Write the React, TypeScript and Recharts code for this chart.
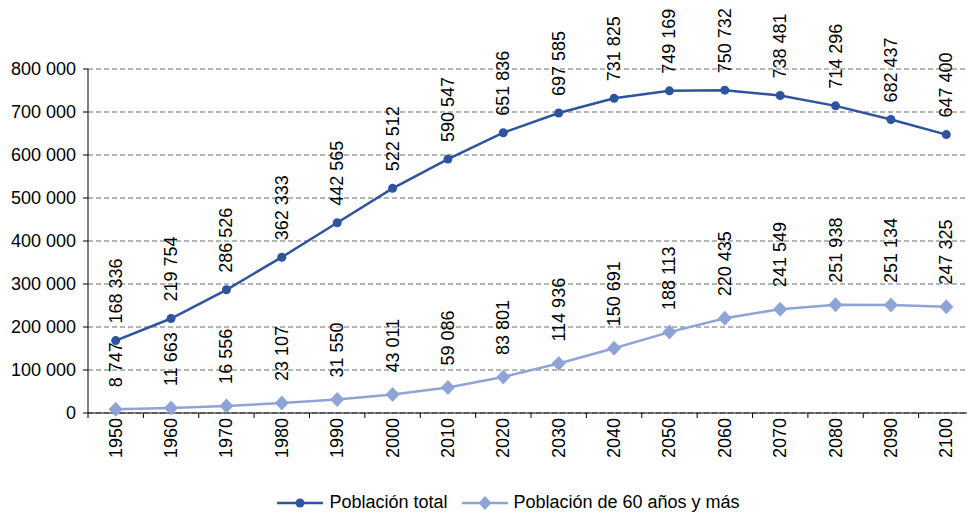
import React from 'react';
import { LineChart, Line, XAxis, YAxis, CartesianGrid, Legend, LabelList } from 'recharts';

const years = [1950, 1960, 1970, 1980, 1990, 2000, 2010, 2020, 2030, 2040, 2050, 2060, 2070, 2080, 2090, 2100];
const totalPop = [168336, 219754, 286526, 362333, 442565, 522512, 590547, 651836, 697585, 731825, 749169, 750732, 738481, 714296, 682437, 647400];
const pop60 = [8747, 11663, 16556, 23107, 31550, 43011, 59086, 83801, 114936, 150691, 188113, 220435, 241549, 251938, 251134, 247325];
const yTicks = [0, 100000, 200000, 300000, 400000, 500000, 600000, 700000, 800000];

const DARK = '#2E54A0';
const LIGHT = '#8EA4D7';
const FONT = '"Liberation Sans", Arial, sans-serif';

const data = years.map((y, i) => ({ year: y, total: totalPop[i], old: pop60[i] }));

// tick marks sit halfway between categories, labels on the categories
const xTicks = [...years.map((y) => y - 5), years[years.length - 1] + 5, ...years].sort((a, b) => a - b);

const fmt = (v: number) => String(v).replace(/\B(?=(\d{3})+(?!\d))/g, ' ');

const XTick = ({ x, y, payload }: any) => {
  if (payload.value % 10 === 5) {
    return <line x1={x} x2={x} y1={y - 5} y2={y} stroke="#000" strokeWidth={1} />;
  }
  return (
    <text x={x} y={y} transform={`rotate(-90, ${x}, ${y})`} textAnchor="end" dominantBaseline="central"
      fontSize={18} fill="#000" fontFamily={FONT}>
      {payload.value}
    </text>
  );
};

const makeLabel = (gap: number) => (props: any) => {
  const { x, y, value } = props;
  const ty = y - gap;
  return (
    <text x={x} y={ty} transform={`rotate(-90, ${x}, ${ty})`} textAnchor="start" dominantBaseline="central"
      fontSize={18} fill="#000" fontFamily={FONT}>
      {fmt(value)}
    </text>
  );
};

const Diamond = (props: any) => {
  const { cx, cy } = props;
  if (cx == null || cy == null) return null;
  return <polygon points={`${cx},${cy - 7.5} ${cx + 7},${cy} ${cx},${cy + 7.5} ${cx - 7},${cy}`} fill={LIGHT} />;
};

const LegendContent = () => (
  <div style={{ display: 'flex', justifyContent: 'center', alignItems: 'center', fontFamily: FONT, fontSize: 18, color: '#000', paddingLeft: 50 }}>
    <svg width={46} height={20} style={{ marginRight: 6 }}>
      <line x1={0} x2={46} y1={10} y2={10} stroke={DARK} strokeWidth={2.5} />
      <circle cx={23} cy={10} r={4.5} fill={DARK} />
    </svg>
    <span>Población total</span>
    <svg width={46} height={20} style={{ marginLeft: 15, marginRight: 5 }}>
      <line x1={0} x2={46} y1={10} y2={10} stroke={LIGHT} strokeWidth={2.5} />
      <polygon points="23,3 29.5,10 23,17 16.5,10" fill={LIGHT} />
    </svg>
    <span>Población de 60 años y más</span>
  </div>
);

export default function App() {
  return (
    <div style={{ position: 'fixed', left: 0, top: 0, width: 967, height: 520, overflow: 'hidden', background: '#fff' }}>
      <LineChart width={975} height={520} data={data} margin={{ top: 69, right: 1, bottom: 47, left: 0 }}>
        <CartesianGrid vertical={false} stroke="#6e6e6e" strokeDasharray="5 3" />
        <XAxis dataKey="year" type="number" domain={[1945, 2105]} ticks={xTicks} interval={0}
          height={60} tickLine={false} tickSize={5} tickMargin={0} axisLine={{ stroke: '#000' }} tick={<XTick />} />
        <YAxis domain={[0, 800000]} ticks={yTicks} width={88} tickSize={5} tickMargin={7} tickFormatter={fmt}
          axisLine={{ stroke: '#000' }} tickLine={{ stroke: '#000' }}
          tick={{ fontSize: 18, fill: '#000', fontFamily: FONT }} />
        <Legend verticalAlign="middle" align="center" layout="horizontal"
          wrapperStyle={{ top: 492, left: 0, width: 967 }} content={<LegendContent />} />
        <Line dataKey="total" stroke={DARK} strokeWidth={2.5} isAnimationActive={false}
          dot={{ r: 4.5, fill: DARK, stroke: DARK, strokeWidth: 0 }} activeDot={false}>
          <LabelList dataKey="total" content={makeLabel(17)} />
        </Line>
        <Line dataKey="old" stroke={LIGHT} strokeWidth={2.5} isAnimationActive={false}
          dot={<Diamond />} activeDot={false}>
          <LabelList dataKey="old" content={makeLabel(22)} />
        </Line>
      </LineChart>
    </div>
  );
}
